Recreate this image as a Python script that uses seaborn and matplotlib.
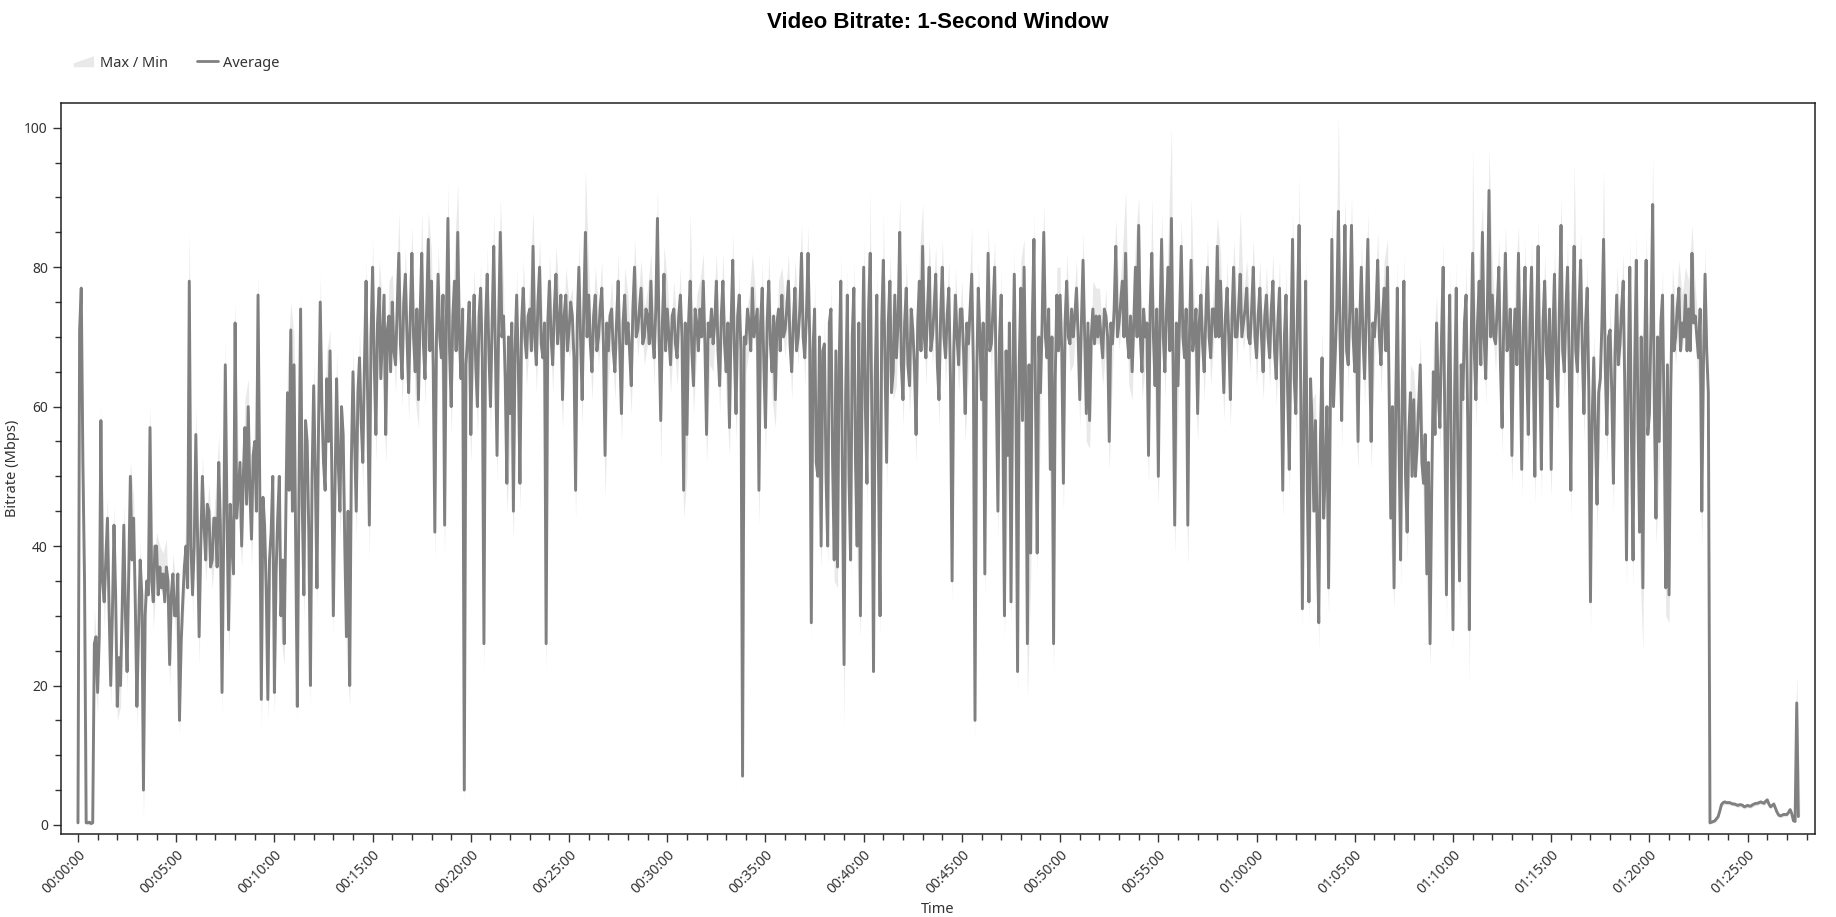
import numpy as np
import pandas as pd
import matplotlib
matplotlib.use("Agg")
import matplotlib.pyplot as plt
import matplotlib.ticker as mticker
from matplotlib.patches import Patch, Polygon
from matplotlib.lines import Line2D
from matplotlib.legend_handler import HandlerPatch
import seaborn as sns

# ---- average bitrate, 5-second samples, one row per minute (Mbps) ----
avg_step_s = 5
avg_mbps = [
    0.3, 71, 77, 52, 35, 0.3, 0.3, 0.4, 0.2, 0.3, 26, 27,
    19, 27, 58, 35, 32, 38, 44, 31, 20, 30, 43, 33,
    17, 24, 20, 31, 43, 30, 22, 36, 50, 38, 44, 32,
    17, 28, 38, 33, 5, 30, 35, 33, 57, 35, 32, 40,
    40, 33, 37, 34, 36, 32, 37, 35, 23, 33, 36, 30,
    30, 36, 15, 26, 32, 37, 40, 34, 78, 40, 33, 40,
    56, 42, 27, 40, 50, 43, 38, 46, 45, 37, 38, 44,
    44, 37, 52, 43, 19, 41, 66, 45, 28, 46, 40, 36,
    72, 44, 48, 52, 40, 50, 57, 46, 60, 48, 41, 53,
    55, 45, 76, 50, 18, 47, 43, 34, 18, 38, 42, 50,
    19, 36, 44, 50, 30, 38, 26, 45, 62, 48, 71, 45,
    66, 40, 17, 48, 74, 46, 33, 58, 55, 42, 20, 50,
    63, 50, 34, 58, 75, 60, 52, 48, 64, 55, 68, 52,
    30, 48, 64, 52, 45, 60, 56, 40, 27, 45, 20, 52,
    65, 55, 45, 62, 67, 58, 52, 66, 78, 60, 43, 70,
    80, 66, 56, 72, 77, 64, 70, 76, 56, 71, 73, 65,
    75, 68, 66, 74, 82, 69, 64, 75, 79, 70, 62, 73,
    82, 70, 65, 74, 61, 73, 82, 69, 64, 74, 84, 68,
    78, 66, 42, 70, 79, 70, 67, 76, 43, 72, 87, 68,
    60, 73, 78, 68, 85, 70, 64, 74, 5, 66, 70, 75,
    56, 70, 76, 66, 60, 73, 77, 67, 26, 72, 79, 68,
    60, 72, 83, 68, 53, 72, 85, 70, 73, 64, 49, 70,
    59, 72, 45, 68, 76, 66, 49, 72, 77, 70, 67, 73,
    74, 68, 83, 70, 66, 75, 80, 69, 67, 72, 26, 72,
    78, 70, 66, 74, 79, 69, 72, 76, 61, 73, 76, 68,
    71, 75, 73, 67, 48, 72, 80, 70, 61, 74, 85, 70,
    76, 69, 65, 73, 76, 68, 70, 74, 77, 69, 53, 72,
    68, 73, 74, 68, 65, 72, 78, 68, 59, 72, 76, 69,
    72, 68, 63, 74, 80, 70, 71, 74, 77, 69, 70, 74,
    73, 69, 78, 70, 67, 74, 87, 70, 58, 72, 79, 68,
    74, 70, 66, 73, 74, 69, 67, 73, 76, 70, 48, 72,
    56, 72, 78, 68, 63, 74, 72, 68, 74, 70, 78, 69,
    56, 72, 70, 74, 69, 72, 78, 68, 63, 73, 78, 69,
    65, 72, 57, 72, 81, 68, 59, 73, 76, 68, 7, 70,
    69, 74, 72, 68, 77, 70, 72, 74, 48, 72, 77, 66,
    57, 72, 78, 69, 65, 73, 61, 72, 74, 68, 76, 70,
    71, 74, 78, 69, 65, 72, 77, 68, 70, 74, 82, 70,
    67, 73, 82, 70, 29, 68, 74, 52, 50, 70, 40, 68,
    69, 50, 40, 72, 74, 52, 38, 68, 37, 66, 78, 50,
    23, 62, 76, 50, 38, 70, 77, 52, 40, 72, 30, 64,
    80, 60, 49, 74, 82, 58, 22, 64, 76, 52, 30, 72,
    81, 66, 52, 72, 78, 62, 65, 76, 67, 72, 85, 66,
    61, 72, 77, 66, 63, 74, 71, 66, 56, 72, 78, 68,
    83, 70, 67, 74, 80, 68, 70, 74, 79, 66, 61, 73,
    80, 70, 67, 73, 77, 64, 35, 68, 76, 70, 66, 74,
    74, 68, 59, 72, 69, 74, 79, 66, 15, 64, 77, 70,
    61, 72, 36, 68, 82, 68, 69, 74, 80, 62, 45, 70,
    76, 58, 30, 68, 53, 72, 32, 64, 79, 60, 22, 66,
    77, 58, 80, 62, 26, 66, 39, 72, 84, 60, 39, 70,
    62, 72, 85, 70, 67, 74, 51, 70, 26, 64, 76, 68,
    76, 68, 49, 72, 78, 70, 69, 74, 70, 73, 77, 70,
    61, 72, 81, 70, 59, 72, 58, 70, 74, 69, 73, 70,
    73, 70, 67, 74, 73, 70, 55, 72, 69, 74, 83, 70,
    72, 75, 78, 70, 82, 70, 67, 73, 65, 72, 80, 70,
    86, 70, 65, 74, 70, 72, 53, 74, 82, 70, 63, 74,
    50, 72, 84, 70, 65, 74, 80, 68, 87, 66, 43, 72,
    63, 73, 83, 70, 67, 74, 43, 70, 81, 68, 70, 74,
    59, 72, 76, 69, 65, 73, 80, 70, 67, 74, 74, 70,
    83, 70, 78, 70, 62, 73, 77, 70, 61, 73, 80, 70,
    70, 74, 79, 70, 72, 74, 77, 70, 69, 74, 80, 70,
    67, 73, 77, 70, 65, 73, 76, 70, 67, 74, 78, 68,
    64, 72, 77, 66, 48, 70, 76, 62, 51, 70, 84, 64,
    59, 74, 86, 62, 31, 60, 78, 48, 32, 64, 57, 45,
    58, 42, 29, 55, 67, 44, 51, 60, 34, 58, 84, 60,
    67, 74, 88, 70, 58, 74, 86, 68, 66, 74, 86, 70,
    65, 74, 55, 72, 80, 70, 64, 74, 84, 68, 55, 72,
    70, 74, 81, 70, 66, 73, 77, 68, 80, 62, 44, 60,
    34, 60, 77, 55, 38, 62, 78, 50, 42, 56, 62, 50,
    61, 50, 54, 60, 66, 52, 49, 56, 36, 52, 26, 48,
    65, 56, 72, 62, 57, 70, 80, 58, 33, 62, 76, 52,
    28, 62, 77, 52, 35, 66, 61, 72, 76, 58, 28, 68,
    82, 68, 61, 72, 78, 66, 85, 70, 64, 74, 91, 70,
    76, 70, 69, 74, 80, 66, 57, 72, 82, 68, 69, 74,
    53, 70, 74, 66, 82, 68, 51, 72, 80, 66, 56, 72,
    80, 66, 50, 72, 83, 66, 51, 72, 78, 68, 64, 74,
    51, 70, 79, 66, 60, 74, 86, 68, 65, 74, 80, 66,
    48, 72, 83, 68, 65, 74, 81, 68, 59, 72, 77, 62,
    32, 58, 67, 56, 46, 62, 64, 72, 84, 66, 56, 70,
    71, 62, 49, 68, 76, 66, 69, 74, 78, 62, 38, 64,
    80, 56, 38, 66, 81, 58, 42, 70, 34, 66, 81, 56,
    59, 72, 89, 60, 44, 70, 55, 72, 76, 58, 34, 66,
    33, 62, 76, 68, 70, 74, 77, 68, 72, 70, 76, 68,
    74, 68, 82, 72, 73, 70, 67, 74, 45, 66, 79, 68,
    62, 0.3, 0.4, 0.5, 0.6, 0.9, 1.2, 2.0, 2.9, 3.2, 3.3, 3.2,
    3.2, 3.2, 3.1, 3.0, 3.0, 2.9, 2.8, 2.9, 2.9, 2.8, 2.6, 2.7,
    2.8, 2.7, 2.7, 2.9, 3.0, 3.1, 3.1, 3.2, 3.3, 3.2, 3.1, 3.4,
    3.6, 3.0, 2.6, 2.8, 3.0, 2.4, 1.8, 1.4, 1.3, 1.4, 1.5, 1.5,
    1.5, 1.8, 2.2, 1.6, 0.6, 0.5, 17.5, 1.2,
]

# ---- max / min band, 10-second samples, one row per minute (Mbps) ----
band_step_s = 10
max_mbps = [
    0.5, 79, 40, 0.5, 0.4, 31,   23, 60, 36, 47, 24, 46,   20, 23, 46, 26, 52, 47,
    20, 41, 9, 38, 60, 36,       42, 40, 39, 41, 27, 39,   34, 18, 35, 44, 85, 37,
    60, 30, 53, 42, 49, 41,      48, 56, 23, 70, 32, 43,   75, 52, 43, 61, 64, 45,
    59, 79, 22, 47, 22, 45,      23, 48, 34, 30, 66, 75,   70, 21, 76, 37, 59, 24,
    67, 38, 79, 56, 68, 71,      34, 68, 49, 60, 31, 23,   69, 49, 71, 56, 81, 47,
    84, 61, 81, 75, 60, 78,      79, 70, 88, 68, 83, 66,   86, 69, 65, 88, 68, 88,
    82, 46, 83, 71, 47, 92,      64, 82, 92, 68, 8, 74,    60, 80, 64, 81, 30, 83,
    64, 88, 57, 90, 77, 53,      63, 49, 80, 53, 81, 71,   78, 88, 70, 84, 71, 29,
    82, 70, 83, 76, 65, 80,      75, 77, 52, 84, 65, 94,   80, 69, 80, 74, 81, 57,
    72, 78, 69, 82, 63, 80,      76, 67, 84, 75, 81, 74,   77, 82, 71, 91, 62, 83,
    78, 70, 78, 71, 80, 52,      60, 88, 67, 76, 78, 82,   60, 74, 73, 82, 67, 82,
    69, 61, 85, 63, 80, 10,      73, 76, 82, 76, 52, 81,   61, 82, 69, 65, 78, 80,
    75, 82, 69, 81, 74, 86,      71, 86, 33, 78, 54, 44,   73, 44, 78, 42, 41, 82,
    27, 80, 42, 81, 44, 34,      84, 53, 91, 26, 80, 34,   88, 56, 82, 69, 71, 90,
    65, 81, 67, 75, 60, 82,      89, 71, 84, 74, 83, 65,   84, 71, 81, 39, 80, 70,
    78, 63, 73, 86, 18, 81,      65, 40, 86, 73, 84, 49,   80, 34, 57, 36, 83, 26,
    81, 84, 30, 43, 88, 43,      66, 89, 71, 55, 30, 80,   80, 53, 82, 73, 74, 81,
    65, 85, 63, 62, 78, 77,      77, 71, 77, 59, 73, 87,   76, 82, 91, 71, 69, 84,
    90, 69, 74, 57, 90, 67,      54, 88, 69, 84, 100, 47,  67, 87, 71, 47, 90, 74,
    63, 80, 69, 84, 71, 78,      87, 82, 66, 81, 65, 84,   74, 88, 76, 81, 73, 84,
    71, 81, 69, 80, 71, 82,      68, 81, 52, 80, 55, 88,   63, 93, 35, 82, 36, 61,
    62, 33, 71, 55, 38, 88,      71, 102, 62, 90, 70, 90,  69, 59, 84, 68, 88, 59,
    74, 85, 70, 81, 84, 48,      38, 81, 42, 82, 46, 66,   65, 58, 70, 53, 40, 30,
    69, 76, 61, 84, 37, 80,      32, 81, 39, 65, 80, 32,   97, 65, 82, 89, 68, 97,
    80, 73, 84, 61, 86, 73,      57, 78, 86, 55, 84, 60,   84, 54, 87, 55, 82, 68,
    55, 83, 64, 90, 69, 84,      52, 95, 69, 85, 63, 81,   36, 71, 50, 68, 94, 60,
    75, 53, 80, 73, 82, 42,      84, 42, 85, 46, 38, 85,   63, 96, 48, 59, 80, 38,
    37, 80, 74, 81, 76, 80,      78, 86, 77, 71, 49, 83,   63, 0.6, 0.9, 1.5, 3.2, 3.6,
    3.5, 3.4, 3.3, 3.1, 3.2, 2.9, 3.1, 3.0, 3.3, 3.4, 3.6, 3.4, 3.9, 2.9, 3.3, 2.1, 1.6, 1.8,
    1.8, 2.5, 0.9, 21.5, 1.5,
]
min_mbps = [
    0, 71, 30, 0, 0, 22,         16, 54, 28, 40, 17, 39,   15, 17, 39, 19, 46, 40,
    14, 34, 1, 31, 53, 28,       36, 34, 33, 33, 20, 33,   26, 13, 28, 36, 72, 29,
    52, 23, 46, 35, 41, 34,      40, 48, 16, 62, 24, 36,   68, 44, 37, 53, 56, 37,
    51, 72, 14, 39, 15, 38,      16, 40, 27, 23, 58, 67,   62, 15, 70, 29, 51, 17,
    59, 31, 71, 48, 60, 64,      27, 60, 41, 52, 24, 17,   61, 41, 63, 48, 74, 38,
    76, 52, 73, 66, 52, 69,      71, 62, 78, 60, 75, 58,   78, 61, 57, 78, 60, 80,
    74, 38, 75, 63, 39, 83,      56, 74, 81, 60, 3, 66,    52, 72, 56, 73, 22, 75,
    56, 79, 49, 81, 69, 45,      55, 41, 72, 45, 73, 63,   70, 79, 62, 76, 63, 22,
    74, 62, 75, 68, 57, 72,      67, 69, 44, 76, 57, 81,   72, 61, 72, 66, 73, 47,
    64, 70, 61, 74, 55, 72,      68, 59, 76, 67, 73, 66,   69, 74, 63, 83, 52, 75,
    70, 62, 70, 63, 72, 44,      50, 74, 59, 68, 70, 74,   52, 66, 65, 74, 59, 74,
    61, 53, 77, 55, 72, 5,       65, 68, 73, 68, 43, 73,   53, 74, 61, 57, 70, 72,
    67, 74, 61, 73, 66, 78,      63, 78, 27, 70, 46, 37,   65, 37, 70, 35, 34, 74,
    14, 72, 35, 73, 37, 27,      76, 45, 78, 20, 72, 27,   77, 48, 74, 61, 63, 81,
    57, 73, 59, 67, 52, 74,      79, 63, 76, 66, 75, 57,   76, 63, 73, 32, 72, 62,
    70, 55, 65, 75, 12, 73,      57, 33, 78, 65, 76, 41,   72, 27, 49, 29, 75, 19,
    73, 76, 18, 35, 80, 36,      58, 81, 63, 47, 22, 72,   72, 45, 74, 65, 66, 73,
    57, 77, 55, 54, 70, 69,      69, 63, 69, 51, 65, 79,   68, 74, 78, 63, 61, 76,
    82, 61, 66, 49, 78, 59,      46, 80, 61, 76, 83, 39,   59, 79, 63, 37, 77, 66,
    55, 72, 61, 76, 63, 70,      79, 74, 58, 73, 57, 76,   66, 75, 68, 73, 65, 76,
    63, 73, 61, 72, 63, 74,      60, 73, 44, 72, 47, 80,   55, 82, 28, 74, 29, 53,
    54, 25, 63, 47, 30, 80,      63, 84, 54, 82, 62, 82,   61, 51, 76, 60, 80, 51,
    66, 77, 62, 73, 76, 40,      31, 73, 34, 74, 38, 58,   57, 50, 62, 45, 33, 23,
    61, 68, 53, 76, 29, 72,      25, 73, 31, 57, 72, 20,   78, 57, 74, 81, 60, 87,
    72, 65, 76, 53, 78, 65,      49, 70, 78, 47, 76, 52,   76, 46, 79, 47, 74, 60,
    47, 75, 56, 82, 61, 76,      44, 79, 61, 77, 55, 73,   28, 63, 42, 60, 80, 52,
    67, 45, 72, 65, 74, 34,      76, 34, 77, 38, 25, 77,   55, 85, 40, 51, 72, 30,
    29, 72, 66, 73, 68, 72,      70, 78, 69, 63, 40, 75,   58, 0.2, 0.3, 0.9, 2.6, 3.0,
    2.9, 2.8, 2.7, 2.5, 2.6, 2.3, 2.5, 2.4, 2.7, 2.8, 3.0, 2.8, 3.3, 2.3, 2.7, 1.5, 1.0, 1.2,
    1.2, 1.9, 0.3, 14, 0.9,
]

avg_df = pd.DataFrame({"t": np.arange(len(avg_mbps)) * avg_step_s, "avg": avg_mbps})
band_df = pd.DataFrame({"t": np.arange(len(max_mbps)) * band_step_s,
                        "max": max_mbps, "min": min_mbps})

line_color = "#808080"
band_color = "#e9e9e9"
text_color = "#333333"

sns.set_theme(style="ticks")
plt.rcParams["font.family"] = ["Noto Sans", "DejaVu Sans"]

fig = plt.figure(figsize=(18.36, 9.17), dpi=100)
ax = fig.add_axes([0.0332, 0.0905, 0.9554, 0.7968])

ax.fill_between(band_df["t"], band_df["min"], band_df["max"], color=band_color, linewidth=0)
sns.lineplot(data=avg_df, x="t", y="avg", ax=ax, color=line_color, linewidth=2.1,
             estimator=None, sort=False)

ax.set_xlim(-52, 5306)
ax.set_ylim(-1.3, 103.5)


def hms(v, pos=None):
    v = int(round(v))
    return f"{v // 3600:02d}:{(v % 3600) // 60:02d}:{v % 60:02d}"


ax.xaxis.set_major_locator(mticker.MultipleLocator(300))
ax.xaxis.set_minor_locator(mticker.MultipleLocator(60))
ax.xaxis.set_major_formatter(mticker.FuncFormatter(hms))
ax.yaxis.set_major_locator(mticker.MultipleLocator(20))
ax.yaxis.set_minor_locator(mticker.MultipleLocator(5))

ax.tick_params(axis="both", which="major", length=6, width=1, colors=text_color,
               labelsize=10)
ax.tick_params(axis="both", which="minor", length=4, width=1, colors=text_color)
for lbl in ax.get_xticklabels():
    lbl.set_rotation(45)
    lbl.set_ha("right")
    lbl.set_rotation_mode("anchor")

for s in ax.spines.values():
    s.set_visible(True)
    s.set_color("#222222")
    s.set_linewidth(1.1)

ax.set_xlabel("Time", fontsize=10.5, color=text_color, labelpad=4)
ax.set_ylabel("Bitrate (Mbps)", fontsize=10.5, color=text_color)
ax.yaxis.set_label_coords(-0.0235, 0.5)

fig.suptitle("Video Bitrate: 1-Second Window", x=0.511, y=0.976, va="center",
             fontsize=16, fontweight="bold", color="black",
             family=["Liberation Sans", "DejaVu Sans"])


def ramp_patch(legend, orig_handle, xdescent, ydescent, width, height, fontsize):
    x0, y0 = -xdescent, -ydescent
    return Polygon([[x0, y0], [x0 + width, y0], [x0 + width, y0 + height],
                    [x0, y0 + 0.35 * height]], closed=True)


handles = [
    Patch(facecolor=band_color, edgecolor="none", label="Max / Min"),
    Line2D([0], [0], color=line_color, linewidth=2, label="Average"),
]
fig.legend(handles=handles, loc="center left", bbox_to_anchor=(0.033, 0.931),
           ncol=2, frameon=False, fontsize=10.5, handlelength=1.4,
           handleheight=0.8, handletextpad=0.4, columnspacing=2.0,
           labelcolor=text_color,
           handler_map={Patch: HandlerPatch(patch_func=ramp_patch)})

fig.savefig("out.png", dpi=100)
